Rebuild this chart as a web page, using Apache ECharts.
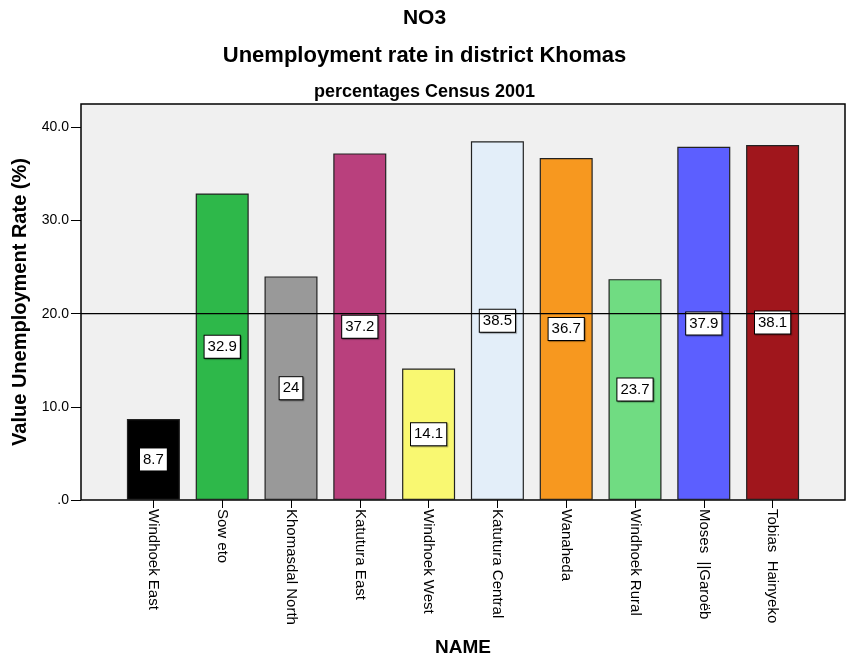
<!DOCTYPE html>
<html>
<head>
<meta charset="utf-8">
<script src="https://cdn.jsdelivr.net/npm/echarts@6/dist/echarts.min.js"></script>
<style>html,body{margin:0;padding:0;background:#fff}#c{width:849px;height:660px}</style>
</head>
<body>
<div id="c"></div>
<script>
const categories = ["Windhoek East","Sow eto","Khomasdal North","Katutura East","Windhoek West","Katutura Central","Wanaheda","Windhoek Rural","Moses  ||Garoëb","Tobias  Hainyeko"];
const values = [8.7, 32.9, 24, 37.2, 14.1, 38.5, 36.7, 23.7, 37.9, 38.1];
const valueLabels = ["8.7","32.9","24","37.2","14.1","38.5","36.7","23.7","37.9","38.1"];
const barColors = ["#000000","#2eb84a","#999999","#b9407d","#f9f871","#e3eef9","#f7981f","#70dc82","#5c5fff","#a0161c"];
const yTicks = [0, 10, 20, 30, 40];
const refValue = 20;
const yMax = 42.5;

const FONT = "Liberation Sans";
const chart = echarts.init(document.getElementById('c'));
chart.setOption({
  animation: false,
  textStyle: { fontFamily: FONT },
  title: [
    { text: "NO3", left: 'center', top: 3, textStyle: { fontFamily: FONT, fontSize: 21, fontWeight: 'bold', color: '#000' } },
    { text: "Unemployment rate in district Khomas", left: 'center', top: 40, textStyle: { fontFamily: FONT, fontSize: 22, fontWeight: 'bold', color: '#000' } },
    { text: "percentages Census 2001", left: 'center', top: 78, textStyle: { fontFamily: FONT, fontSize: 18, fontWeight: 'bold', color: '#000' } }
  ],
  grid: [
    { left: 81, right: 4, top: 104, bottom: 160, show: true, backgroundColor: '#f0f0f0', borderColor: '#000', borderWidth: 1.5, z: 0, containLabel: false, outerBoundsMode: 'none' },
    { left: 119, right: 42, top: 104, bottom: 160, containLabel: false, outerBoundsMode: 'none' }
  ],
  xAxis: [
    { gridIndex: 0, type: 'value', min: 0, max: 1, show: false },
    { gridIndex: 1, type: 'category', data: categories,
      axisLine: { show: false },
      axisTick: { show: true, alignWithLabel: true, length: 8, lineStyle: { color: '#000' } },
      axisLabel: { rotate: -90, fontSize: 15, color: '#000', margin: 9, interval: 0, fontFamily: FONT },
      name: "NAME", nameLocation: 'middle', nameGap: 138,
      nameTextStyle: { fontSize: 19, fontWeight: 'bold', color: '#000', fontFamily: FONT }
    }
  ],
  yAxis: [
    { gridIndex: 0, type: 'value', min: 0, max: yMax, show: false },
    { gridIndex: 1, type: 'value', min: 0, max: yMax, interval: 10, offset: 38,
      axisLine: { show: false },
      axisTick: { show: true, length: 10, lineStyle: { color: '#000' }, customValues: yTicks },
      splitLine: { show: false },
      axisLabel: { fontSize: 14, color: '#000', margin: 12, fontFamily: FONT, customValues: yTicks,
        formatter: v => v === 0 ? '.0' : v.toFixed(1) },
      name: "Value Unemployment Rate (%)", nameLocation: 'middle', nameGap: 47,
      nameTextStyle: { fontSize: 20, fontWeight: 'bold', color: '#000', fontFamily: FONT }
    }
  ],
  series: [
    { type: 'line', xAxisIndex: 0, yAxisIndex: 0, data: [[0, refValue], [1, refValue]], symbol: 'none',
      lineStyle: { color: '#000', width: 1.2 }, z: 5, silent: true },
    { type: 'bar', xAxisIndex: 1, yAxisIndex: 1, barWidth: 53, z: 3,
      data: values.map((v, i) => ({ value: v, itemStyle: { color: barColors[i] } })),
      itemStyle: { borderColor: '#222', borderWidth: 1.2 },
      label: { show: true, position: 'inside', formatter: p => valueLabels[p.dataIndex],
        color: '#000', fontSize: 15, fontFamily: FONT, backgroundColor: '#fff',
        borderColor: '#000', borderWidth: 1, padding: [4, 3, 3, 3],
        shadowColor: 'rgba(0,0,0,0.35)', shadowOffsetX: 1, shadowOffsetY: 1, shadowBlur: 1 }
    }
  ]
});
</script>
</body>
</html>
